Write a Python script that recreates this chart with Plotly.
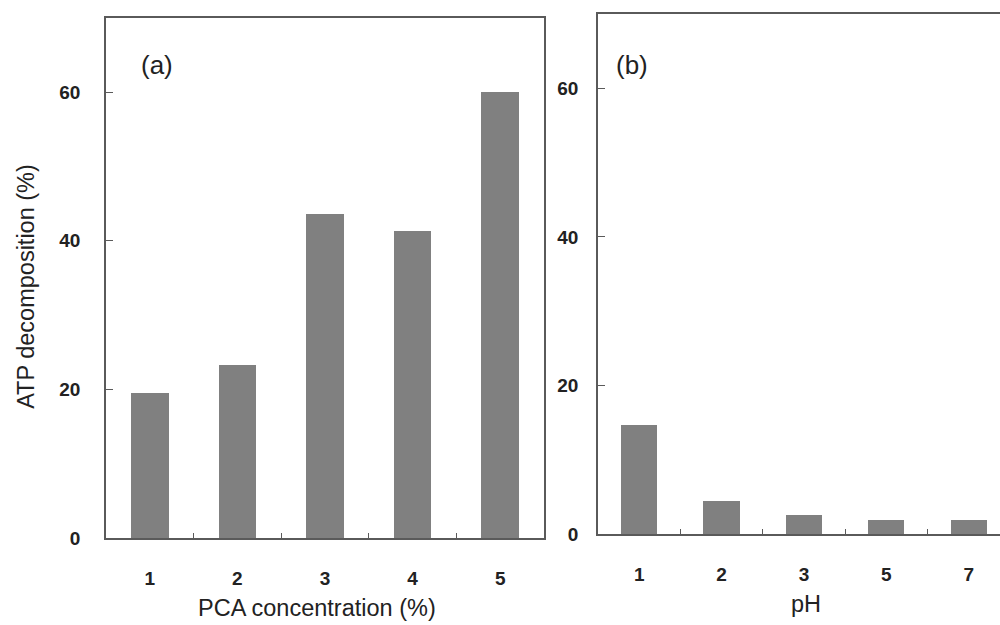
import plotly.graph_objects as go

# ATP decomposition (%) versus PCA concentration and versus pH
pca_conc = ["1", "2", "3", "4", "5"]
atp_by_pca = [19.6, 23.4, 43.7, 41.3, 60.0]

ph_values = ["1", "2", "3", "5", "7"]
atp_by_ph = [14.7, 4.5, 2.6, 2.0, 2.0]

y_ticks = [0, 20, 40, 60]

BAR = "#808080"
LINE = "#5a5a5a"
FONT = "Liberation Sans, Arial, sans-serif"
W, H = 1000, 625

fig = go.Figure()
fig.add_trace(go.Bar(x=pca_conc, y=atp_by_pca, width=0.43, marker_color=BAR,
                     marker_line_width=0, xaxis="x", yaxis="y"))
fig.add_trace(go.Bar(x=ph_values, y=atp_by_ph, width=0.44, marker_color=BAR,
                     marker_line_width=0, xaxis="x2", yaxis="y2"))

tick_font = dict(family=FONT, size=19, color="#222", weight="bold")

def xax(domain, rng, anchor, standoff):
    return dict(domain=domain, range=rng, type="category", anchor=anchor,
                showline=True, linecolor=LINE, linewidth=1.6, mirror=True,
                ticks="inside", ticklen=6, tickwidth=1.3, tickcolor=LINE,
                tickson="boundaries", showgrid=False, zeroline=False,
                tickfont=tick_font, ticklabelstandoff=standoff, fixedrange=True)

def yax(domain, anchor, mirror, standoff):
    return dict(domain=domain, range=[0, 70], anchor=anchor,
                tickvals=y_ticks, ticktext=[str(v) for v in y_ticks],
                showline=True, linecolor=LINE, linewidth=1.6, mirror=mirror,
                ticks="inside", ticklen=7, tickwidth=1.3, tickcolor=LINE,
                showgrid=False, zeroline=False,
                tickfont=tick_font, ticklabelstandoff=standoff, fixedrange=True)

fig.update_layout(
    width=W, height=H,
    margin=dict(l=0, r=0, t=0, b=0),
    paper_bgcolor="white", plot_bgcolor="white",
    showlegend=False, bargap=0,
    xaxis=xax([106 / W, 544 / W], [-0.5, 4.5], "y", 22),
    yaxis=yax([1 - 548 / H, 1 - 18 / H], "x", True, 20),
    xaxis2=xax([598 / W, 1.0], [-0.5, 4.38], "y2", 22),
    yaxis2=yax([1 - 544 / H, 1 - 14 / H], "x2", False, 14),
)

def label(text, x, y, size, angle=0):
    fig.add_annotation(text=text, x=x / W, y=1 - y / H, xref="paper", yref="paper",
                       showarrow=False, textangle=angle, xanchor="center", yanchor="middle",
                       font=dict(family=FONT, size=size, color="#222"))

label("(a)", 157, 66, 26)
label("(b)", 632, 66, 26)
label("ATP decomposition (%)", 26, 292, 23.5, angle=-90)
label("PCA concentration (%)", 317, 619, 23.5)
label("pH", 806, 615, 23.5)

fig.write_html("out.html")
